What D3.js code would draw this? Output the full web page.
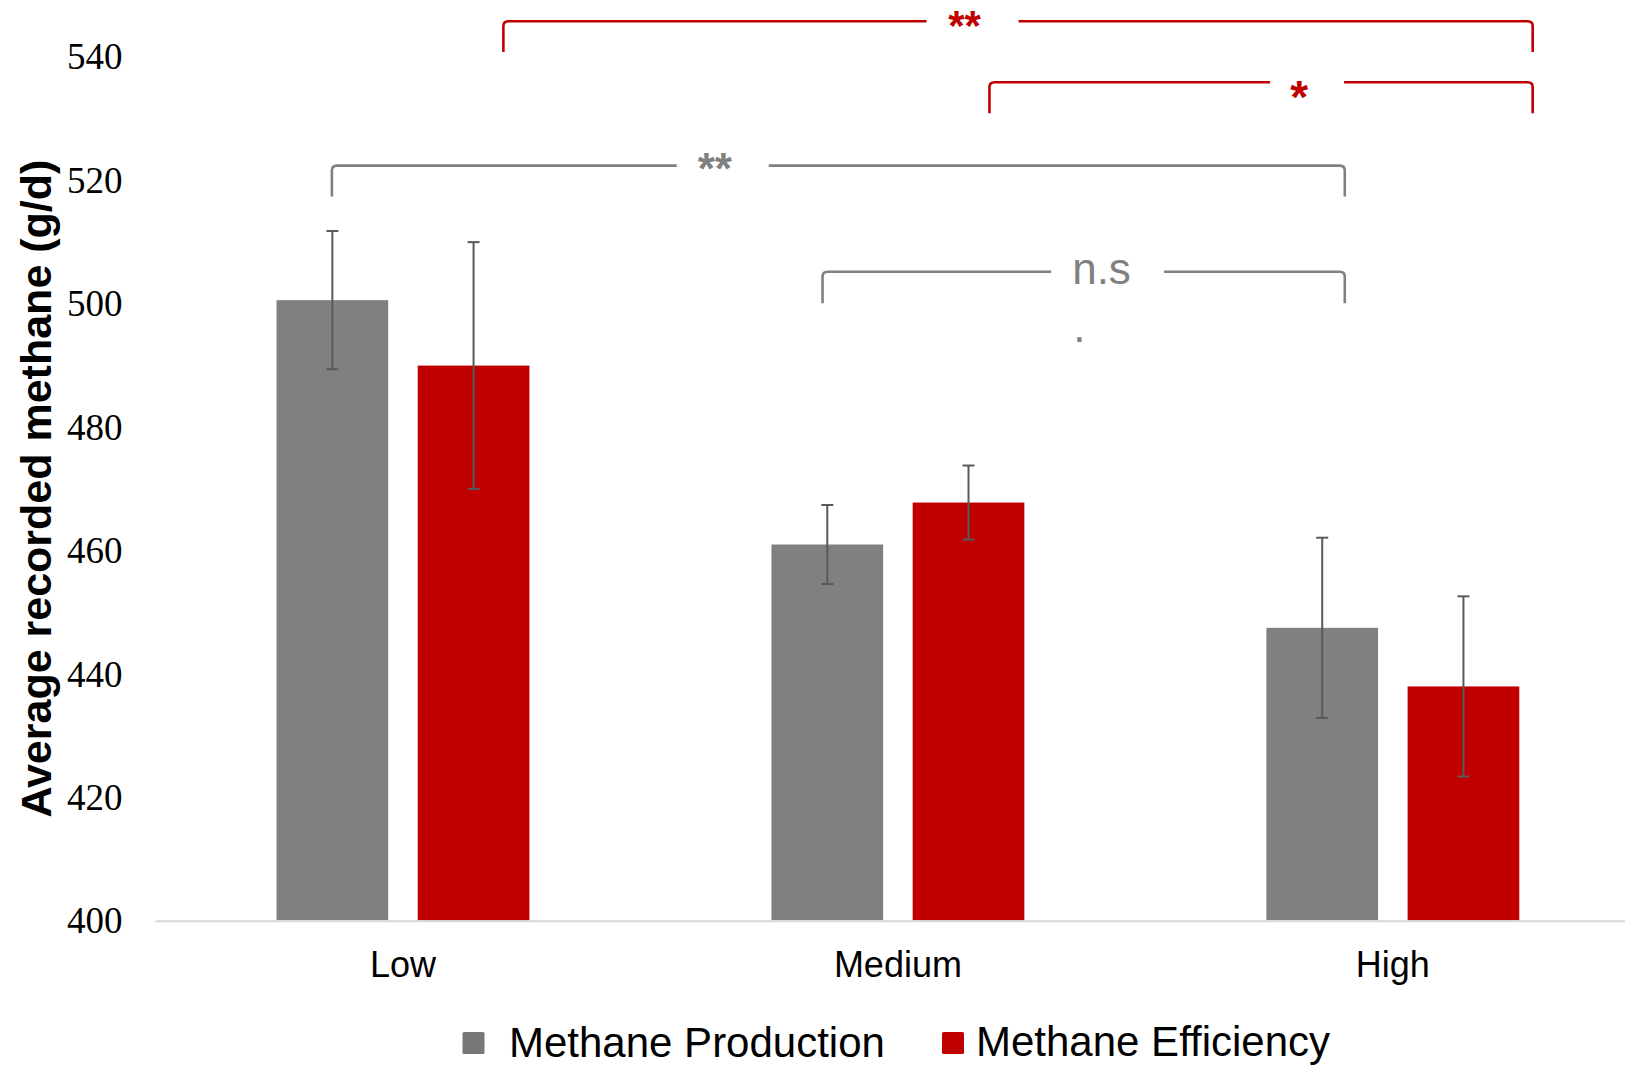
<!DOCTYPE html>
<html>
<head>
<meta charset="utf-8">
<script src="https://cdn.jsdelivr.net/npm/d3@7"></script>
<style>
  html, body { margin: 0; padding: 0; background: #ffffff; }
  svg { display: block; }
</style>
</head>
<body>
<script>
// Average recorded methane per group, with standard error bars
const categories = ["Low", "Medium", "High"];
const seriesNames = ["Methane Production", "Methane Efficiency"];
const productionValues = [500.5, 460.9, 447.4];
const productionErrors = [11.2, 6.4, 14.6];
const efficiencyValues = [489.9, 467.7, 437.9];
const efficiencyErrors = [20.0, 6.0, 14.6];
const yTickValues = [400, 420, 440, 460, 480, 500, 520, 540];
const seriesColors = ["#808080", "#C00000"];

// Significance brackets: ends given as (category, fraction of group width), heights in g/d
const brackets = [
  { from: ["Low", 0.897], to: ["High", 1.053], top: 545.7, bottom: 540.7, label: "**", color: "#C00000", at: 0.448, gapL: 38, gapR: 54, size: 42, weight: "bold", base: 40 },
  { from: ["Medium", 0.862], to: ["High", 1.053], top: 535.8, bottom: 530.8, label: "*", color: "#C00000", at: 0.570, gapL: 29, gapR: 45, size: 46, weight: "bold", base: 113 },
  { from: ["Low", 0.219], to: ["High", 0.310], top: 522.3, bottom: 517.3, label: "**", color: "#808080", at: 0.378, gapL: 38, gapR: 54, size: 44, weight: "bold", base: 184 },
  { from: ["Medium", 0.202], to: ["High", 0.310], top: 505.1, bottom: 500.0, label: "n.s", color: "#808080", at: 0.478, gapL: 21, gapR: 92, size: 44, weight: "normal", base: 284, tail: "." }
];

const W = 1625, H = 1066;
const svg = d3.select("body").append("svg").attr("width", W).attr("height", H);

const x0 = d3.scaleBand().domain(categories).range([155.5, 1640.3]).paddingInner(0.489).paddingOuter(0.2445);
const x1 = d3.scaleBand().domain(seriesNames).range([0, x0.bandwidth()]).paddingInner(0.209);
const y = d3.scaleLinear().domain([400, 540]).range([920.3, 56.4]);

const rows = categories.map((c, i) => ({
  cat: c,
  bars: [
    { s: seriesNames[0], v: productionValues[i], e: productionErrors[i], color: seriesColors[0] },
    { s: seriesNames[1], v: efficiencyValues[i], e: efficiencyErrors[i], color: seriesColors[1] }
  ]
}));

// Y axis labels (no axis line, no ticks)
const yAxis = d3.axisLeft(y).tickValues(yTickValues).tickSize(0).tickPadding(0);
const yg = svg.append("g").attr("transform", "translate(122.5,0)").call(yAxis);
yg.select(".domain").remove();
yg.selectAll("text")
  .attr("font-family", "'Liberation Serif', 'Times New Roman', serif")
  .attr("font-size", 37)
  .attr("fill", "#000")
  .attr("x", 0)
  .attr("dy", "0.34em");

// Y axis title
svg.append("text")
  .attr("transform", "translate(51,488.6) rotate(-90)")
  .attr("text-anchor", "middle")
  .attr("font-family", "'Liberation Sans', Arial, sans-serif")
  .attr("font-weight", "bold")
  .attr("font-size", 43)
  .attr("fill", "#000")
  .text("Average recorded methane (g/d)");

// Bars
const groups = svg.append("g").selectAll("g").data(rows).join("g")
  .attr("transform", d => `translate(${x0(d.cat)},0)`);

groups.selectAll("rect").data(d => d.bars).join("rect")
  .attr("x", d => x1(d.s))
  .attr("width", x1.bandwidth())
  .attr("y", d => y(d.v))
  .attr("height", d => y(400) - y(d.v))
  .attr("fill", d => d.color);

// Error bars
const capHalf = 6;
const eb = groups.selectAll("g.err").data(d => d.bars).join("g").attr("class", "err")
  .attr("stroke", "#595959").attr("stroke-width", 2);
eb.append("line")
  .attr("x1", d => x1(d.s) + x1.bandwidth() / 2)
  .attr("x2", d => x1(d.s) + x1.bandwidth() / 2)
  .attr("y1", d => y(d.v + d.e))
  .attr("y2", d => y(d.v - d.e));
eb.append("line")
  .attr("x1", d => x1(d.s) + x1.bandwidth() / 2 - capHalf)
  .attr("x2", d => x1(d.s) + x1.bandwidth() / 2 + capHalf)
  .attr("y1", d => y(d.v + d.e))
  .attr("y2", d => y(d.v + d.e));
eb.append("line")
  .attr("x1", d => x1(d.s) + x1.bandwidth() / 2 - capHalf)
  .attr("x2", d => x1(d.s) + x1.bandwidth() / 2 + capHalf)
  .attr("y1", d => y(d.v - d.e))
  .attr("y2", d => y(d.v - d.e));

// Category axis
const xAxis = d3.axisBottom(x0).tickSize(0).tickPadding(0);
const xg = svg.append("g").attr("transform", `translate(0,${y(400)})`).call(xAxis);
xg.select(".domain").remove();
svg.append("line")
  .attr("x1", 155.5).attr("x2", W)
  .attr("y1", y(400) + 1).attr("y2", y(400) + 1)
  .attr("stroke", "#d9d9d9").attr("stroke-width", 2);
xg.selectAll("text")
  .attr("font-family", "'Liberation Sans', Arial, sans-serif")
  .attr("font-size", 36)
  .attr("fill", "#000")
  .attr("y", 56.5)
  .attr("dy", 0);

// Significance brackets
const bx = ([c, f]) => x0(c) + f * x0.bandwidth();
const r = 5;
brackets.forEach(b => {
  const xa = bx(b.from), xb = bx(b.to);
  const yt = y(b.top), yb = y(b.bottom);
  const lx = xa + b.at * (xb - xa);
  const gl = lx - b.gapL, gr = lx + b.gapR;
  const p = d3.path();
  p.moveTo(xa, yb);
  p.lineTo(xa, yt + r);
  p.quadraticCurveTo(xa, yt, xa + r, yt);
  p.lineTo(gl, yt);
  p.moveTo(gr, yt);
  p.lineTo(xb - r, yt);
  p.quadraticCurveTo(xb, yt, xb, yt + r);
  p.lineTo(xb, yb);
  svg.append("path").attr("d", p.toString())
    .attr("fill", "none").attr("stroke", b.color).attr("stroke-width", 2.6);
  const isNs = b.label === "n.s";
  svg.append("text")
    .attr("x", isNs ? lx : lx)
    .attr("y", b.base)
    .attr("text-anchor", isNs ? "start" : "middle")
    .attr("font-family", "'Liberation Sans', Arial, sans-serif")
    .attr("font-weight", b.weight)
    .attr("font-size", b.size)
    .attr("fill", b.color)
    .text(b.label);
  if (b.tail) {
    svg.append("text")
      .attr("x", lx + 1)
      .attr("y", b.base + 58)
      .attr("font-family", "'Liberation Sans', Arial, sans-serif")
      .attr("font-size", b.size)
      .attr("fill", b.color)
      .text(b.tail);
  }
});

// Legend
const legend = [
  { name: seriesNames[0], color: "#7a7777", sx: 462.5, tx: 509, base: 1056.5 },
  { name: seriesNames[1], color: seriesColors[1], sx: 942, tx: 976, base: 1055.5 }
];
const lg = svg.append("g").selectAll("g").data(legend).join("g");
lg.append("rect")
  .attr("x", d => d.sx).attr("y", 1032)
  .attr("width", 22).attr("height", 22).attr("rx", 1.5)
  .attr("fill", d => d.color);
lg.append("text")
  .attr("x", d => d.tx).attr("y", d => d.base)
  .attr("font-family", "'Liberation Sans', Arial, sans-serif")
  .attr("font-size", 42)
  .attr("fill", "#000")
  .text(d => d.name);
</script>
</body>
</html>
